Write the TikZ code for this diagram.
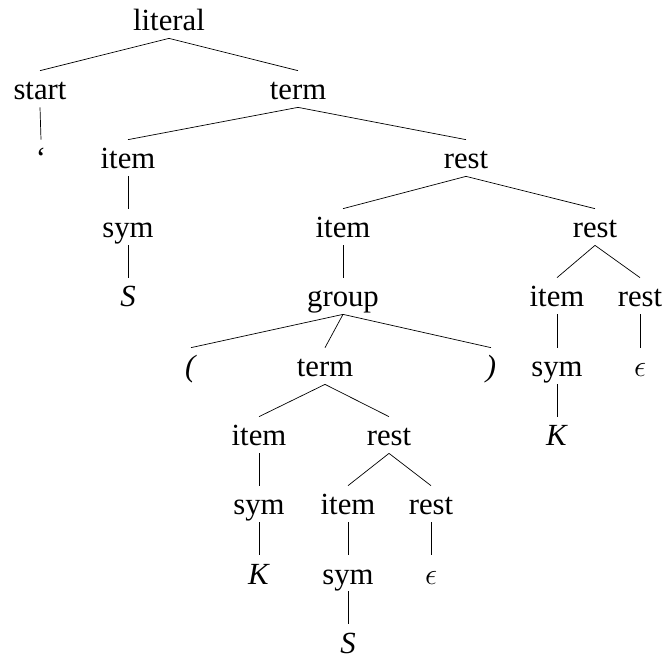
\documentclass[tikz,border=0pt]{standalone}
\usepackage{fontspec}
\setmainfont{Liberation Serif}
\begin{document}
\begin{tikzpicture}[x=0.02cm,y=-0.02cm,
  every node/.style={font=\fontsize{17.5}{20}\selectfont,text height=14.5pt,text depth=2pt,inner xsep=1pt,inner ysep=2pt}]
\useasboundingbox (0,0) rectangle (665,657);
\node (literal) at (169,20) {literal};
\node (start) at (40,89) {start};
\node (term) at (298,89) {term};
\node (quote) at (41,158) {‘};
\node (item1) at (128,158) {item};
\node (rest1) at (466,158) {rest};
\node (sym1) at (128,227) {sym};
\node (item2) at (343,227) {item};
\node (rest2) at (595,227) {rest};
\node (S1) at (128,296) {\textit{S}};
\node (group) at (343,296) {group};
\node (item3) at (557,296) {item};
\node (rest3) at (640,296) {rest};
\node (lpar) at (191,366) {\textit{(}};
\node (term2) at (325,366) {term};
\node (rpar) at (491,366) {\textit{)}};
\node (sym3) at (557,366) {sym};
\node (eps1) at (640,366) {$\epsilon$};
\node (item4) at (259,435) {item};
\node (rest4) at (389,435) {rest};
\node (K1) at (557,435) {\textit{K}};
\node (sym4) at (259,504) {sym};
\node (item5) at (348,504) {item};
\node (rest5) at (431,504) {rest};
\node (K2) at (259,573) {\textit{K}};
\node (sym5) at (348,573) {sym};
\node (eps2) at (431,573) {$\epsilon$};
\node (S2) at (348,642) {\textit{S}};
\draw (literal.south) -- (start.north);
\draw (literal.south) -- (term.north);
\draw (start.south) -- (quote.north);
\draw (term.south) -- (item1.north);
\draw (term.south) -- (rest1.north);
\draw (item1.south) -- (sym1.north);
\draw (sym1.south) -- (S1.north);
\draw (rest1.south) -- (item2.north);
\draw (rest1.south) -- (rest2.north);
\draw (item2.south) -- (group.north);
\draw (group.south) -- (lpar.north);
\draw (group.south) -- (term2.north);
\draw (group.south) -- (rpar.north);
\draw (term2.south) -- (item4.north);
\draw (term2.south) -- (rest4.north);
\draw (item4.south) -- (sym4.north);
\draw (sym4.south) -- (K2.north);
\draw (rest4.south) -- (item5.north);
\draw (rest4.south) -- (rest5.north);
\draw (item5.south) -- (sym5.north);
\draw (sym5.south) -- (S2.north);
\draw (rest5.south) -- (eps2.north);
\draw (rest2.south) -- (item3.north);
\draw (rest2.south) -- (rest3.north);
\draw (item3.south) -- (sym3.north);
\draw (sym3.south) -- (K1.north);
\draw (rest3.south) -- (eps1.north);
\end{tikzpicture}
\end{document}
